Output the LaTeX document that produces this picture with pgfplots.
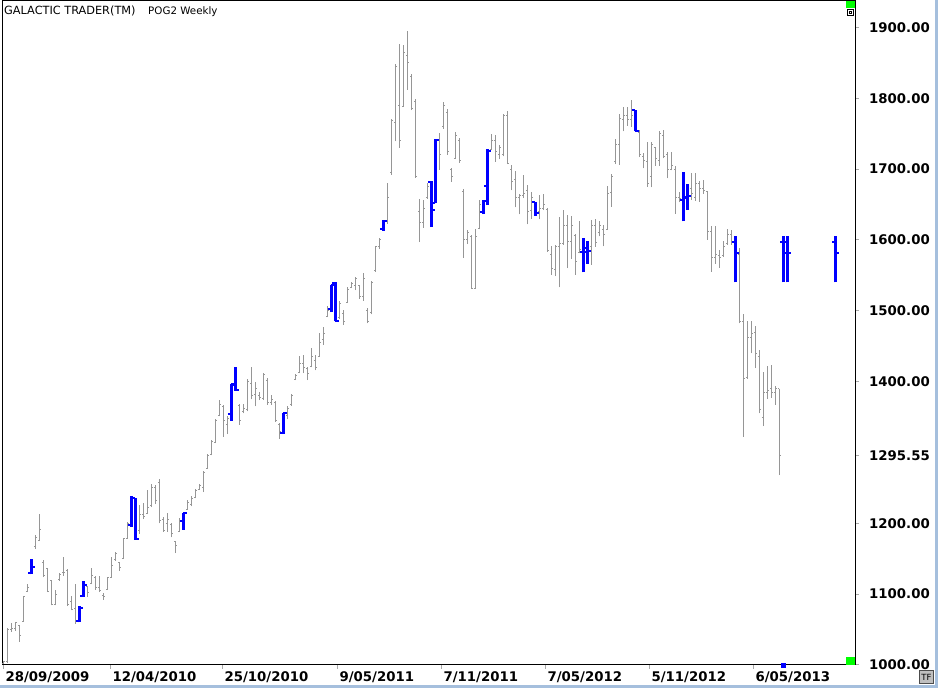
\documentclass[border=0pt]{standalone}
\usepackage{fontspec}
\setmainfont{DejaVu Sans}
\usepackage{pgfplots}
\pgfplotsset{compat=1.18}
\usepackage{pgfplotstable}

\definecolor{bargray}{RGB}{150,150,150}
\definecolor{tickgray}{RGB}{170,170,170}
\definecolor{barblue}{RGB}{0,0,255}
\definecolor{edgeblue}{RGB}{165,191,221}
\definecolor{scrgreen}{RGB}{0,255,0}

% weekly bars: index, open, high, low, close
\pgfplotstableread{
i O H L C
0 1002 1006 1001 1005
1 1005 1052 1003 1050
2 1050 1059 1047 1052
3 1052 1061 1048 1060
4 1056 1056 1033 1041
5 1061 1097 1061 1096
6 1104 1115 1103 1110
8 1167 1184 1164 1180
9 1176 1213 1175 1191
10 1145 1148 1124 1126
11 1136 1137 1103 1104
12 1119 1120 1084 1085
13 1086 1106 1084 1100
14 1121 1130 1119 1128
15 1130 1152 1126 1131
16 1134 1135 1083 1085
17 1090 1097 1077 1079
18 1080 1115 1058 1062
21 1111 1112 1096 1102
22 1115 1137 1114 1126
23 1124 1125 1106 1110
24 1110 1125 1103 1105
25 1098 1101 1092 1097
26 1107 1124 1106 1123
27 1124 1152 1123 1140
28 1149 1160 1147 1157
29 1145 1146 1133 1138
30 1151 1179 1150 1178
31 1179 1202 1178 1200
34 1190 1226 1185 1212
35 1212 1228 1206 1210
36 1214 1247 1213 1222
37 1225 1256 1223 1250
38 1250 1254 1227 1232
39 1258 1262 1200 1204
40 1205 1209 1188 1190
41 1200 1215 1188 1206
42 1199 1200 1180 1185
43 1174 1175 1158 1168
44 1189 1207 1188 1203
46 1220 1233 1219 1230
47 1226 1238 1224 1235
48 1237 1248 1235 1246
49 1248 1256 1247 1254
50 1250 1274 1244 1272
51 1278 1298 1277 1296
52 1297 1317 1296 1315
53 1314 1347 1313 1345
54 1352 1374 1351 1368
55 1365 1367 1322 1345
56 1340 1351 1326 1348
59 1366 1368 1339 1345
60 1358 1368 1355 1362
61 1360 1403 1358 1400
62 1398 1420 1375 1380
63 1382 1399 1365 1390
64 1380 1386 1374 1377
65 1376 1412 1374 1410
66 1402 1405 1367 1370
67 1370 1381 1367 1375
68 1370 1372 1343 1345
69 1340 1342 1319 1330
71 1352 1365 1347 1362
72 1367 1383 1366 1381
73 1403 1411 1402 1409
74 1413 1436 1412 1426
75 1425 1437 1412 1420
76 1418 1421 1402 1412
77 1422 1447 1420 1435
78 1430 1437 1416 1420
79 1436 1469 1435 1455
80 1460 1477 1452 1468
81 1492 1506 1491 1500
84 1490 1514 1489 1510
85 1496 1501 1480 1485
86 1512 1534 1511 1530
87 1533 1540 1532 1538
88 1535 1548 1529 1545
89 1535 1537 1517 1520
90 1520 1553 1514 1545
91 1500 1504 1482 1485
92 1497 1542 1495 1540
93 1557 1592 1555 1590
94 1590 1602 1587 1600
96 1626 1680 1623 1660
97 1695 1771 1692 1769
98 1765 1848 1739 1845
99 1790 1877 1730 1740
100 1788 1875 1788 1865
101 1860 1895 1812 1850
102 1830 1834 1783 1785
103 1795 1799 1688 1690
104 1640 1658 1597 1625
105 1625 1656 1617 1645
106 1660 1681 1658 1675
109 1740 1751 1699 1720
110 1760 1794 1757 1790
111 1780 1785 1720 1725
112 1700 1702 1682 1690
113 1715 1752 1714 1748
114 1740 1744 1709 1712
115 1668 1672 1575 1600
116 1600 1614 1594 1610
117 1605 1607 1531 1531
118 1532 1616 1531 1605
119 1616 1656 1615 1650
122 1728 1750 1727 1740
123 1740 1748 1710 1725
124 1720 1734 1714 1730
125 1720 1778 1718 1775
126 1776 1782 1707 1708
127 1700 1706 1670 1683
128 1685 1697 1646 1660
129 1660 1665 1636 1662
130 1662 1692 1659 1665
131 1670 1677 1622 1640
132 1642 1668 1630 1660
134 1640 1663 1629 1645
135 1645 1665 1642 1650
136 1643 1645 1583 1585
137 1580 1591 1551 1560
138 1558 1593 1549 1590
139 1590 1632 1533 1595
140 1595 1642 1593 1620
141 1620 1635 1560 1598
142 1598 1634 1573 1620
143 1606 1608 1551 1570
144 1582 1626 1581 1586
147 1590 1628 1565 1620
148 1620 1629 1590 1597
149 1610 1626 1605 1620
150 1615 1621 1591 1608
151 1615 1676 1614 1665
152 1667 1693 1647 1690
153 1710 1742 1707 1735
154 1735 1778 1706 1772
155 1770 1787 1753 1776
156 1775 1788 1761 1770
157 1770 1798 1759 1775
159 1752 1755 1717 1720
160 1718 1722 1701 1712
161 1710 1738 1675 1680
162 1690 1738 1674 1735
163 1730 1731 1705 1715
164 1712 1754 1705 1750
165 1748 1755 1715 1718
166 1720 1724 1687 1700
167 1700 1724 1698 1705
168 1700 1704 1637 1660
169 1660 1668 1653 1658
172 1672 1695 1657 1665
173 1660 1695 1655 1680
174 1680 1683 1654 1672
175 1672 1685 1665 1670
176 1668 1669 1600 1612
177 1612 1619 1555 1575
178 1575 1619 1566 1580
179 1578 1586 1561 1575
180 1578 1599 1576 1590
181 1595 1615 1593 1608
182 1608 1614 1593 1598
184 1580 1589 1482 1485
185 1485 1495 1322 1404
186 1406 1485 1404 1462
187 1462 1486 1440 1468
188 1470 1478 1419 1440
189 1435 1444 1355 1360
190 1350 1414 1337 1385
191 1385 1422 1376 1388
192 1390 1423 1377 1385
193 1385 1394 1367 1390
194 1390 1390 1268 1295.55
}\graybars

% highlighted (blue) bars, the last four are projections
\pgfplotstableread{
i O H L C
7 1130 1150 1128 1139
19 1062 1083 1060 1081
20 1098 1119 1096 1113
32 1198 1238 1195 1236
33 1236 1236 1177 1178
45 1203 1215 1191 1214
57 1354 1397 1345 1396
58 1395 1421 1387 1388
70 1327 1356 1326 1355
82 1503 1537 1498 1536
83 1539 1541 1485 1486
95 1615 1628 1613 1627
107 1682 1683 1618 1642
108 1652 1742 1652 1741
120 1640 1656 1637 1655
121 1676 1728 1649 1726
133 1653 1654 1634 1638
145 1583 1602 1554 1583
146 1588 1599 1566 1584
158 1783 1784 1753 1754
170 1657 1696 1626 1660
171 1659 1679 1642 1662
183 1597 1605 1540 1581
195 1597 1605 1540 1581
196 1597 1605 1540 1581
208 1597 1605 1540 1581
}\bluebars

\begin{document}
\begin{tikzpicture}[x=1pt,y=1pt]
\path[use as bounding box] (0,0) rectangle (938,688);
\fill[edgeblue] (935,0) rectangle (938,688);
\fill[edgeblue] (0,0) rectangle (938,3);
\begin{axis}[
  at={(3pt,23pt)}, anchor=south west,
  width=852pt, height=664pt, scale only axis,
  xmin=-0.1, xmax=212.9, ymin=1000, ymax=1937.2,
  clip=false,
  axis line style={black, line width=1pt},
  tick align=outside, major tick length=4pt,
  xtick pos=left, ytick pos=right, yticklabel pos=right,
  tick style={tickgray, line width=1pt},
  xtick={0,26.75,54.75,83.5,109.5,135.5,161.5,187.5},
  xticklabels={28/09/2009,12/04/2010,25/10/2010,9/05/2011,7/11/2011,7/05/2012,5/11/2012,6/05/2013},
  ytick={1000,1100,1200,1295.55,1400,1500,1600,1700,1800,1900},
  yticklabels={1000.00,1100.00,1200.00,1295.55,1400.00,1500.00,1600.00,1700.00,1800.00,1900.00},
  ticklabel style={font=\bfseries\fontsize{13.3}{15}\selectfont, inner sep=0pt},
  xticklabel style={anchor=base west, xshift=2pt, yshift=-13pt},
  yticklabel style={anchor=west, xshift=10pt},
]
\addplot[bargray, line width=1pt, quiver={u=0, v=\thisrow{H}-\thisrow{L}}] table[x=i, y=L] {\graybars};
\addplot[bargray, line width=1pt, quiver={u=-0.45, v=0}] table[x=i, y=O] {\graybars};
\addplot[bargray, line width=1pt, quiver={u=0.45, v=0}] table[x=i, y=C] {\graybars};
\addplot[barblue, line width=3pt, quiver={u=0, v=\thisrow{H}-\thisrow{L}}] table[x=i, y=L] {\bluebars};
\addplot[barblue, line width=2pt, quiver={u=-0.8, v=0}] table[x=i, y=O] {\bluebars};
\addplot[barblue, line width=2pt, quiver={u=0.8, v=0}] table[x=i, y=C] {\bluebars};
\addplot[only marks, mark=square*, mark size=2pt, barblue] coordinates {(195,1000)};
\end{axis}
\fill[scrgreen] (846,680) rectangle (855,687);
\draw[black, line width=0.8pt, fill=white] (847.5,672.5) rectangle (853.5,679);
\draw[black, line width=0.6pt] (849.3,674.3) rectangle (851.7,676.5);
\fill[scrgreen] (846,23) rectangle (855,31);
\draw[black!70, fill=black!25] (919.5,4.5) rectangle (933.5,17.5);
\node[font=\fontsize{8.5}{9}\selectfont, inner sep=0pt] at (926.5,11) {TF};
\node[anchor=base west, inner sep=0pt, font=\fontsize{11.3}{13}\selectfont] at (4,673) {GALACTIC TRADER(TM)};
\node[anchor=base west, inner sep=0pt, font=\fontsize{10.3}{13}\selectfont] at (148,673) {POG2 Weekly};
\end{tikzpicture}
\end{document}
